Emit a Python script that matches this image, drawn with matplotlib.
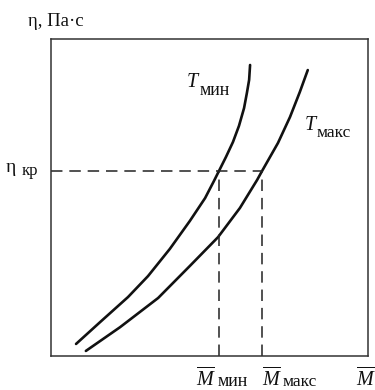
import matplotlib
matplotlib.use("Agg")
import matplotlib.pyplot as plt

plt.rcParams['font.family'] = ['Liberation Serif', 'DejaVu Serif']
plt.rcParams['mathtext.fontset'] = 'custom'
plt.rcParams['mathtext.it'] = 'Liberation Serif:italic'
plt.rcParams['mathtext.rm'] = 'Liberation Serif'

# Viscosity vs. molecular mass at the two temperatures
m_tmin = [0.79, 1.55, 2.43, 3.06, 3.75, 4.38, 4.86, 5.14, 5.30, 5.52, 5.74, 5.93, 6.09, 6.18, 6.25, 6.28]
eta_tmin = [0.38, 1.07, 1.86, 2.52, 3.38, 4.26, 4.98, 5.52, 5.84, 6.28, 6.75, 7.26, 7.82, 8.30, 8.71, 9.18]
m_tmax = [1.10, 2.18, 3.38, 4.38, 5.27, 5.96, 6.50, 6.66, 7.16, 7.54, 7.85, 8.10]
eta_tmax = [0.16, 0.91, 1.83, 2.84, 3.75, 4.67, 5.55, 5.84, 6.72, 7.54, 8.33, 9.02]

eta_kr = 5.84
m_min = 5.30
m_max = 6.66

W, H = 375, 390
fig = plt.figure(figsize=(W / 100, H / 100), dpi=100)
ax = fig.add_axes([51 / W, 34 / H, 317 / W, 317 / H])
ax.set_xlim(0, 10)
ax.set_ylim(0, 10)
ax.set_xticks([])
ax.set_yticks([])
for s in ax.spines.values():
    s.set_linewidth(1.1)
    s.set_color('#333333')

ink = '#111111'
for xs, ys in ((m_tmin, eta_tmin), (m_tmax, eta_tmax)):
    ax.plot(xs, ys, color=ink, lw=1.9, solid_capstyle='round', solid_joinstyle='round')

dash = (0, (7.5, 4.5))
ax.plot([0, m_max], [eta_kr, eta_kr], color='#222222', lw=1.1, linestyle=dash)
ax.plot([m_min, m_min], [0, eta_kr], color='#222222', lw=1.1, linestyle=dash)
ax.plot([m_max, m_max], [0, eta_kr], color='#222222', lw=1.1, linestyle=dash)


def label(px, py, s, size):
    """Place text with its left baseline at pixel (px, py) from the top-left."""
    fig.text(px / W, 1 - py / H, s, fontsize=size, ha='left', va='baseline', color='#111111')


# Axis captions
label(28, 26, 'η, Па·с', 13.5)
label(6, 172, 'η', 14)
label(22, 175, 'кр', 12)

# Curve labels
label(186, 87, '$T$', 14.5)
label(200, 95, 'мин', 13)
label(304, 130, '$T$', 14.5)
label(317, 137, 'макс', 12.5)

# Bottom labels
label(196, 386, r'$\overline{M}$', 14.5)
label(218, 386, 'мин', 13)
label(262, 386, r'$\overline{M}$', 14.5)
label(283, 386, 'макс', 12.5)
label(356, 386, r'$\overline{M}$', 14.5)

fig.savefig('out.png', dpi=100)
